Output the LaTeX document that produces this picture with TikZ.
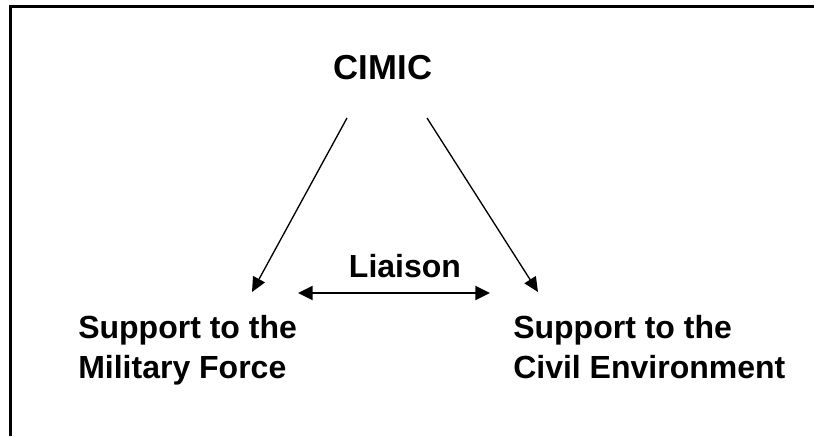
\documentclass[tikz,border=0pt]{standalone}
\usepackage{fontspec}
\setmainfont{Liberation Sans}
\usepackage{tikz}
\usetikzlibrary{arrows.meta, positioning}

\begin{document}
\begin{tikzpicture}[
    x=0.75pt, y=-0.75pt,
    heading/.style={font=\bfseries\fontsize{24}{30}\selectfont, inner sep=0pt},
    role/.style={heading, align=left, anchor=north west},
    link/.style={line width=1pt, -{Triangle[length=11pt, width=10pt]}},
    liaison link/.style={line width=1.6pt, {Triangle[length=11pt, width=10.5pt]}-{Triangle[length=11pt, width=10.5pt]}}
]
    \useasboundingbox (0,0) rectangle (814,436);
    \draw[line width=2.25pt] (10.5,436) -- (10.5,6.5) -- (814,6.5);

    \node[heading, font=\bfseries\fontsize{26}{30}\selectfont, anchor=base] (cimic) at (383,79) {CIMIC};
    \node[role] (military) at (78,315) {Support to the\\Military Force};
    \node[role] (civil) at (513,315) {Support to the\\Civil Environment};
    \node[heading, anchor=base] (liaison) at (405,277) {Liaison};

    \draw[link] ([shift={(-36,39)}]cimic.base) -- ([shift={(174,-23)}]military.north west);
    \draw[link] ([shift={(44,39)}]cimic.base) -- ([shift={(25,-23)}]civil.north west);
    \draw[liaison link] ([shift={(220,-22)}]military.north west) -- ([shift={(-23,-22)}]civil.north west);
\end{tikzpicture}
\end{document}
